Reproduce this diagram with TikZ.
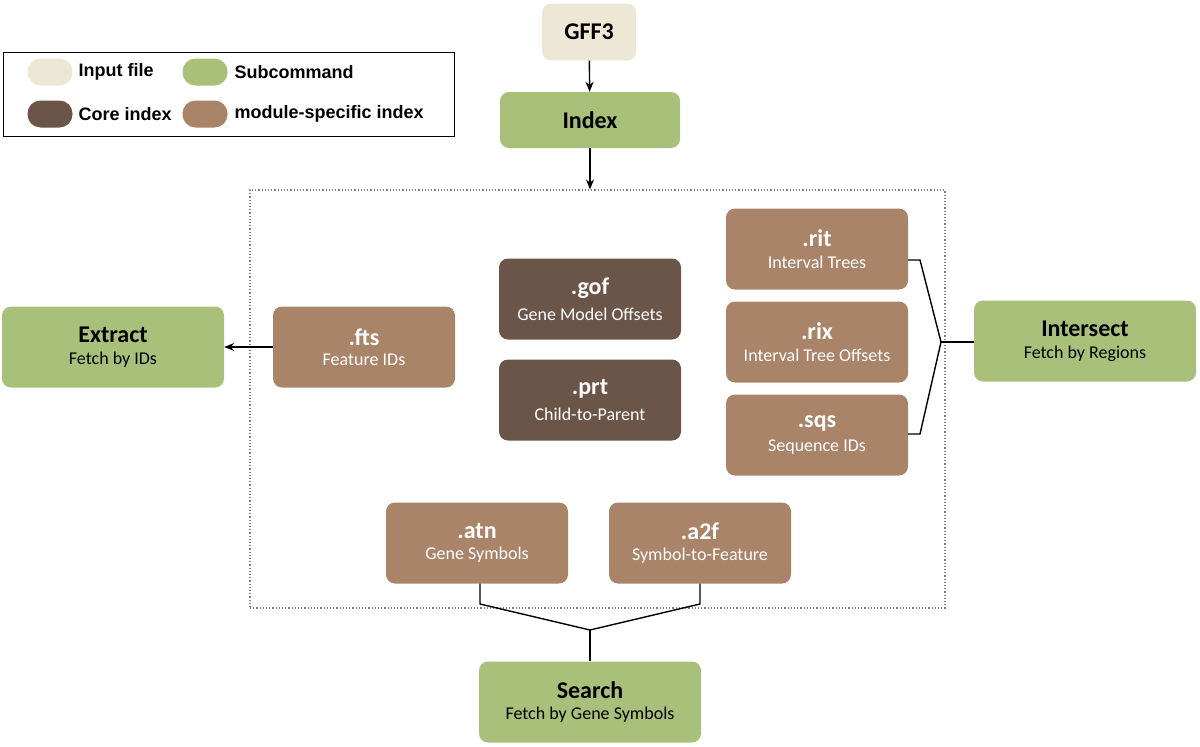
\documentclass[tikz,border=0pt]{standalone}
\usepackage{fontspec}
\setmainfont{Carlito}
\newfontfamily\legfont{Liberation Sans}
\usetikzlibrary{arrows.meta}
\definecolor{cin}{HTML}{EDE8D6}
\definecolor{csub}{HTML}{A9C07A}
\definecolor{ccore}{HTML}{6B5448}
\definecolor{cmod}{HTML}{A98468}
\begin{document}
\begin{tikzpicture}[x=1pt,y=-1pt,
  box/.style={rounded corners=9pt,minimum width=182pt,minimum height=81pt,align=center,inner sep=0pt},
  sub/.style={box,fill=csub,minimum width=222pt,text=black},
  mod/.style={box,fill=cmod,text=white},
  core/.style={box,fill=ccore,text=white},
  pill/.style={rounded corners=13pt,minimum width=45pt,minimum height=27pt,inner sep=0pt},
  leg/.style={anchor=west,font=\legfont\bfseries\fontsize{18}{21}\selectfont},
  conn/.style={line width=1.4pt},
  arr/.style={conn,-{Stealth[length=10pt,width=8pt]}}]
\useasboundingbox (0,0) rectangle (1200,747);
\newcommand{\bt}[2]{{\fontsize{24}{28}\selectfont\bfseries #1}\\[8pt]{\fontsize{18}{22}\selectfont #2}}
% legend
\node[draw,line width=1pt,minimum width=451pt,minimum height=84pt,inner sep=0pt] (legend) at (228.5,94) {};
\node[pill,fill=cin] (l1) at (50,72) {};
\node[leg] (t1) at (75,72) {Input file};
\node[pill,fill=csub] (l2) at (205,72) {};
\node[leg] (t2) at (231,72) {Subcommand};
\node[pill,fill=ccore] (l3) at (50,114) {};
\node[leg] (t3) at (75,114) {Core index};
\node[pill,fill=cmod] (l4) at (205,114) {};
\node[leg] (t4) at (231,114) {module-specific index};
% dotted region
\node[draw=gray,dotted,line width=1.2pt,minimum width=695pt,minimum height=418pt,inner sep=0pt] (region) at (597.5,399) {};
% nodes
\node[box,fill=cin,minimum width=94pt,minimum height=57pt] (gff) at (589,32) {\fontsize{24}{28}\selectfont\bfseries GFF3};
\node[box,fill=csub,minimum width=180pt,minimum height=56pt] (index) at (590,120) {\fontsize{24}{28}\selectfont\bfseries Index};
\node[sub] (extract) at (113,347) {\bt{Extract}{Fetch by IDs}};
\node[mod] (fts) at (364,347) {\bt{.fts}{Feature IDs}};
\node[core] (gof) at (590,299) {\bt{.gof}{Gene Model Offsets}};
\node[core] (prt) at (590,400) {\bt{.prt}{Child-to-Parent}};
\node[mod] (rit) at (817,249) {\bt{.rit}{Interval Trees}};
\node[mod] (rix) at (817,342) {\bt{.rix}{Interval Tree Offsets}};
\node[mod] (sqs) at (817,435) {\bt{.sqs}{Sequence IDs}};
\node[sub] (intersect) at (1085,341) {\bt{Intersect}{Fetch by Regions}};
\node[mod] (atn) at (477,543) {\bt{.atn}{Gene Symbols}};
\node[mod] (a2f) at (700,543) {\bt{.a2f}{Symbol-to-Feature}};
\node[sub] (search) at (590,702) {\bt{Search}{Fetch by Gene Symbols}};
% connectors
\coordinate (rj) at (941,342);
\coordinate (bj) at (590,630);
\draw[arr] (gff) -- (index);
\draw[arr] (index) -- (region.north -| index);
\draw[arr] (fts) -- (extract);
\draw[conn] (rit.east |- 0,260) -- (920,260) -- (rj) -- (920,434) -- (sqs.east |- 0,434);
\draw[conn] (rj) -- (intersect.west |- rj);
\draw[conn] (atn.south -| 480,0) -- (480,604) -- (bj) -- (700,604) -- (a2f.south -| 700,0);
\draw[conn] (bj) -- (search);
\end{tikzpicture}
\end{document}
